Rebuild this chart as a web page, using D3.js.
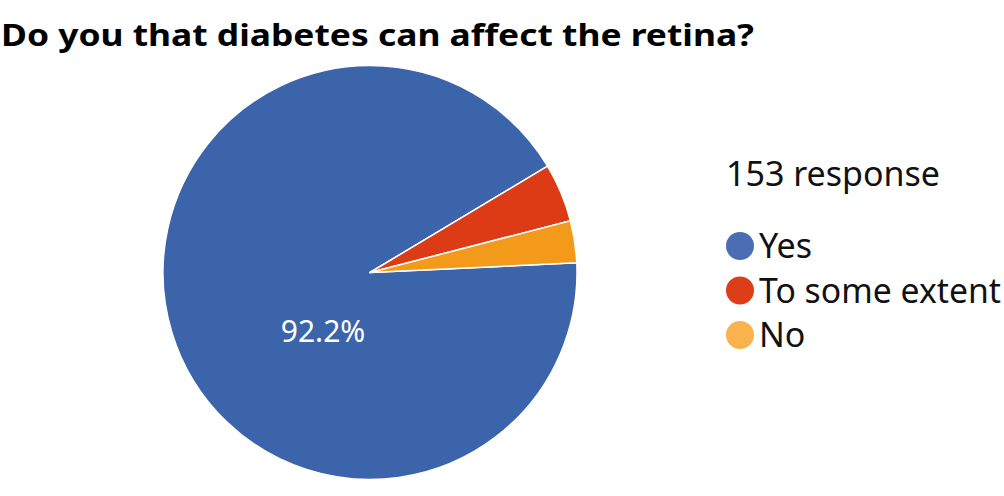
<!DOCTYPE html>
<html>
<head>
<meta charset="utf-8">
<script src="https://cdn.jsdelivr.net/npm/d3@7"></script>
<style>
  html, body { margin: 0; padding: 0; background: #ffffff; }
  svg { display: block; }
</style>
</head>
<body>
<svg id="chart"></svg>
<script>
// data
const categories = ["Yes", "To some extent", "No"];
const counts = [141, 7, 5];
const sliceColors = ["#3c64ab", "#dd3a16", "#f39a1b"];
const legendColors = ["#4a6db3", "#dd3d18", "#f8b34d"];
const titleText = "Do you that diabetes can affect the retina?";
const totalLabel = "153 response";

const width = 1004;
const height = 496;

const svg = d3.select("#chart")
  .attr("width", width)
  .attr("height", height)
  .style("font-family", "'Noto Sans', 'Open Sans', sans-serif");

const center = [370, 272.5];
const radius = 207;

const data = categories.map((c, i) => ({ name: c, value: counts[i], color: sliceColors[i] }));
const total = d3.sum(counts);

// title
svg.append("text")
  .attr("x", 1)
  .attr("y", 46)
  .attr("font-size", "31px")
  .attr("font-weight", "bold")
  .attr("fill", "#000")
  .attr("textLength", 753)
  .attr("lengthAdjust", "spacingAndGlyphs")
  .text(titleText);

// pie — clockwise, Yes starting just above 3 o'clock
const startDeg = 87.3;
const pie = d3.pie()
  .value(d => d.value)
  .sort(null)
  .startAngle(startDeg * Math.PI / 180)
  .endAngle(startDeg * Math.PI / 180 + 2 * Math.PI);

const arc = d3.arc().innerRadius(0).outerRadius(radius);

const g = svg.append("g")
  .attr("transform", `translate(${center[0]}, ${center[1]})`);

g.selectAll("path")
  .data(pie(data))
  .join("path")
  .attr("d", arc)
  .attr("fill", d => d.data.color)
  .attr("stroke", "#ffffff")
  .attr("stroke-width", 1.5)
  .attr("stroke-linejoin", "round");

// percentage label on the big slice
const yesArc = pie(data)[0];
g.append("text")
  .attr("x", -47)
  .attr("y", 69)
  .attr("text-anchor", "middle")
  .attr("font-size", "30px")
  .attr("fill", "#ffffff")
  .text(d3.format(".1%")(yesArc.data.value / total));

// legend
svg.append("text")
  .attr("x", 726)
  .attr("y", 186)
  .attr("font-size", "34px")
  .attr("fill", "#111")
  .text(totalLabel);

const legendY = d3.scalePoint()
  .domain(categories)
  .range([246, 335]);

const item = svg.append("g").selectAll("g")
  .data(categories)
  .join("g")
  .attr("transform", d => `translate(740, ${legendY(d)})`);

item.append("circle")
  .attr("r", 14)
  .attr("fill", (d, i) => legendColors[i]);

item.append("text")
  .attr("x", 19)
  .attr("y", 12)
  .attr("font-size", "34px")
  .attr("fill", "#111")
  .attr("textLength", d => d === "To some extent" ? 242 : null)
  .attr("lengthAdjust", "spacingAndGlyphs")
  .text(d => d);
</script>
</body>
</html>
